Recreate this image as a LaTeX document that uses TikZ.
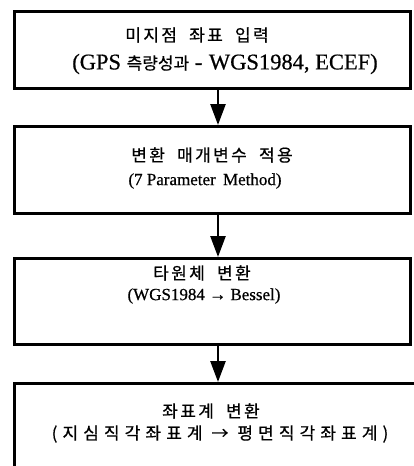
\documentclass[tikz,border=0pt]{standalone}
\usepackage{fontspec}
\setmainfont{Liberation Serif}[FakeBold=0.6]
\newfontfamily\kr{Noto Sans CJK KR}[LetterSpace=14,FakeBold=0.6]
\newfontfamily\krw{Noto Sans CJK KR}[LetterSpace=30,FakeBold=0.6]
\newfontfamily\krt{Noto Sans CJK KR}[FakeBold=0.6]
\usetikzlibrary{arrows.meta}
\begin{document}
\begin{tikzpicture}[x=1pt,y=-1pt,
  box/.style={draw,line width=2.6pt,rectangle,anchor=north west,inner sep=0pt},
  lbl/.style={font=\fontsize{17}{20}\selectfont,inner sep=0pt,anchor=center},
  big/.style={font=\fontsize{22.5}{26}\selectfont,inner sep=0pt,anchor=center},
  flow/.style={line width=2.6pt,-{Triangle[width=15pt,length=21pt]}}]
\useasboundingbox (0,0) rectangle (414,466);
\clip (0,0) rectangle (414,466);
\node[box,minimum width=396pt,minimum height=77pt] (b1) at (13,10) {};
\node[box,minimum width=396pt,minimum height=87pt] (b2) at (13,125) {};
\node[box,minimum width=396pt,minimum height=86pt] (b3) at (13,257) {};
\node[box,minimum width=420pt,minimum height=100pt] (b4) at (13,382) {};
\node[lbl] (t1a) at (197,35) {\kr 미지점\hspace{6pt} 좌표\hspace{6pt} 입력};
\node[big] (t1b) at (225,64) {(GPS {\krt\fontsize{17}{20}\selectfont 측량성과} -\hspace{1pt} WGS1984, ECEF)};
\node[lbl] (t2a) at (212,155) {\kr 변환\hspace{6pt} 매개변수\hspace{6pt} 적용};
\node[lbl] (t2b) at (205,181) {(7 Parameter\hspace{3pt} Method)};
\node[lbl] (t3a) at (202,273) {\kr 타원체\hspace{6pt} 변환};
\node[lbl] (t3b) at (204,296) {(WGS1984 → Bessel)};
\node[lbl] (t4a) at (211,411) {\kr 좌표계\hspace{6pt} 변환};
\node[lbl] (t4b) at (220,434) {\krw (지심직각좌표계 → 평면직각좌표계)};
\coordinate (ax) at (218,0);
\draw[flow] (b1.south -| ax) -- (b2.north -| ax);
\draw[flow] (b2.south -| ax) -- (b3.north -| ax);
\draw[flow] (b3.south -| ax) -- (b4.north -| ax);
\end{tikzpicture}
\end{document}
